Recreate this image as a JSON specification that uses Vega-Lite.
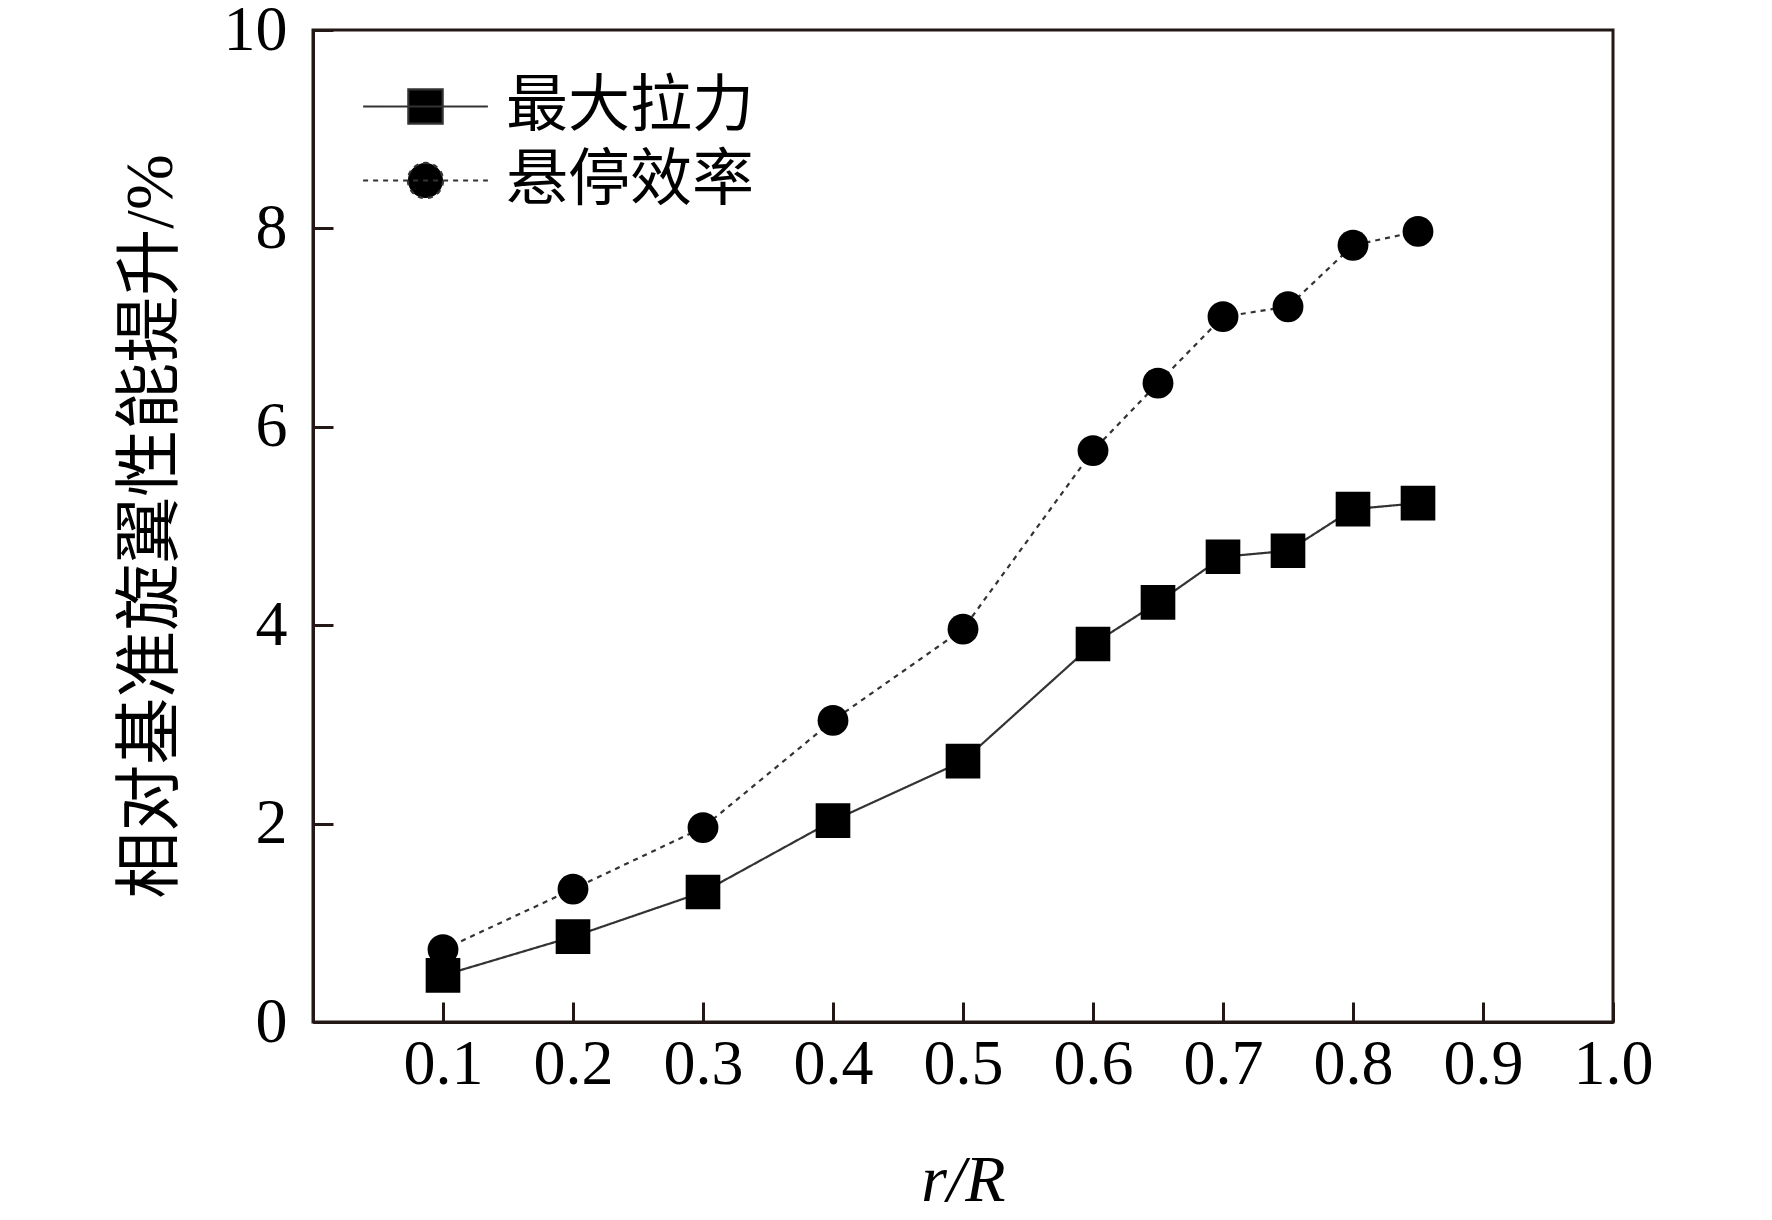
{
  "$schema": "https://vega.github.io/schema/vega-lite/v6.json",
  "autosize": {"type": "none"},
  "padding": {"left": 313, "top": 30, "right": 159, "bottom": 198},
  "width": 1300,
  "height": 992,
  "background": "white",
  "config": {
    "view": {"stroke": "#231815", "strokeWidth": 3},
    "font": "Liberation Serif, Noto Sans CJK SC",
    "axis": {
      "grid": false,
      "domainColor": "#231815",
      "domainWidth": 3,
      "tickColor": "#231815",
      "tickWidth": 3,
      "tickSize": -20,
      "labelFont": "Liberation Serif",
      "labelFontSize": 64,
      "labelColor": "black",
      "labelFlush": false,
      "labelOverlap": false,
      "titleColor": "black",
      "titleFontWeight": "normal"
    }
  },
  "data": {
    "values": [
      {"r": 0.1, "v": 0.47, "series": "最大拉力"},
      {"r": 0.2, "v": 0.86, "series": "最大拉力"},
      {"r": 0.3, "v": 1.31, "series": "最大拉力"},
      {"r": 0.4, "v": 2.03, "series": "最大拉力"},
      {"r": 0.5, "v": 2.63, "series": "最大拉力"},
      {"r": 0.6, "v": 3.81, "series": "最大拉力"},
      {"r": 0.65, "v": 4.23, "series": "最大拉力"},
      {"r": 0.7, "v": 4.69, "series": "最大拉力"},
      {"r": 0.75, "v": 4.75, "series": "最大拉力"},
      {"r": 0.8, "v": 5.17, "series": "最大拉力"},
      {"r": 0.85, "v": 5.23, "series": "最大拉力"},
      {"r": 0.1, "v": 0.73, "series": "悬停效率"},
      {"r": 0.2, "v": 1.34, "series": "悬停效率"},
      {"r": 0.3, "v": 1.96, "series": "悬停效率"},
      {"r": 0.4, "v": 3.04, "series": "悬停效率"},
      {"r": 0.5, "v": 3.96, "series": "悬停效率"},
      {"r": 0.6, "v": 5.76, "series": "悬停效率"},
      {"r": 0.65, "v": 6.44, "series": "悬停效率"},
      {"r": 0.7, "v": 7.11, "series": "悬停效率"},
      {"r": 0.75, "v": 7.21, "series": "悬停效率"},
      {"r": 0.8, "v": 7.83, "series": "悬停效率"},
      {"r": 0.85, "v": 7.97, "series": "悬停效率"}
    ]
  },
  "encoding": {
    "x": {
      "field": "r",
      "type": "quantitative",
      "scale": {"domain": [0, 1], "nice": false, "zero": false},
      "axis": {
        "values": [0.1, 0.2, 0.3, 0.4, 0.5, 0.6, 0.7, 0.8, 0.9, 1.0],
        "format": ".1f",
        "labelPadding": 30,
        "title": "r/R",
        "titleFont": "Liberation Serif",
        "titleFontStyle": "italic",
        "titleFontSize": 66,
        "titleBaseline": "alphabetic",
        "titleY": 178
      }
    },
    "y": {
      "field": "v",
      "type": "quantitative",
      "scale": {"domain": [0, 10], "nice": false},
      "axis": {
        "values": [0, 2, 4, 6, 8, 10],
        "labelPadding": 46,
        "title": "相对基准旋翼性能提升/%",
        "titleFontSize": 67,
        "titleAngle": -90,
        "titleAlign": "center",
        "titleBaseline": "middle",
        "titleX": -162,
        "titleY": 496
      }
    }
  },
  "layer": [
    {
      "mark": {"type": "line", "strokeWidth": 2.2, "color": "#333333"},
      "encoding": {
        "strokeDash": {
          "field": "series",
          "type": "nominal",
          "scale": {"domain": ["最大拉力", "悬停效率"], "range": [[1, 0], [5, 5]]},
          "legend": {
            "orient": "none",
            "legendX": 72,
            "legendY": 36,
            "title": null,
            "padding": 0,
            "rowPadding": 2,
            "symbolSize": 6084,
            "symbolStrokeWidth": 2.2,
            "symbolStrokeColor": "#333333",
            "symbolFillColor": "black",
            "labelFont": "Liberation Serif, Noto Sans CJK SC",
            "labelFontSize": 62,
            "labelLimit": 500,
            "labelColor": "black",
            "labelOffset": 40,
            "encode": {
              "symbols": {
                "update": {
                  "shape": {"signal": "datum.value === '最大拉力' ? 'M-1.6,0L1.6,0M-0.44,-0.44L0.44,-0.44L0.44,0.44L-0.44,0.44Z' : 'M-1.6,0L1.6,0M0.45,0A0.45,0.45 0 1,1 -0.45,0A0.45,0.45 0 1,1 0.45,0Z'"},
                  "fill": {"value": "black"},
                  "fillOpacity": {"value": 1},
                  "stroke": {"value": "#333333"},
                  "strokeWidth": {"value": 2.2},
                  "opacity": {"value": 1}
                }
              }
            }
          }
        }
      }
    },
    {
      "transform": [{"filter": "datum.series === '最大拉力'"}],
      "mark": {"type": "point", "shape": "square", "size": 1200, "filled": true, "opacity": 1, "color": "black"}
    },
    {
      "transform": [{"filter": "datum.series === '悬停效率'"}],
      "mark": {"type": "point", "shape": "circle", "size": 950, "filled": true, "opacity": 1, "color": "black"}
    }
  ]
}
